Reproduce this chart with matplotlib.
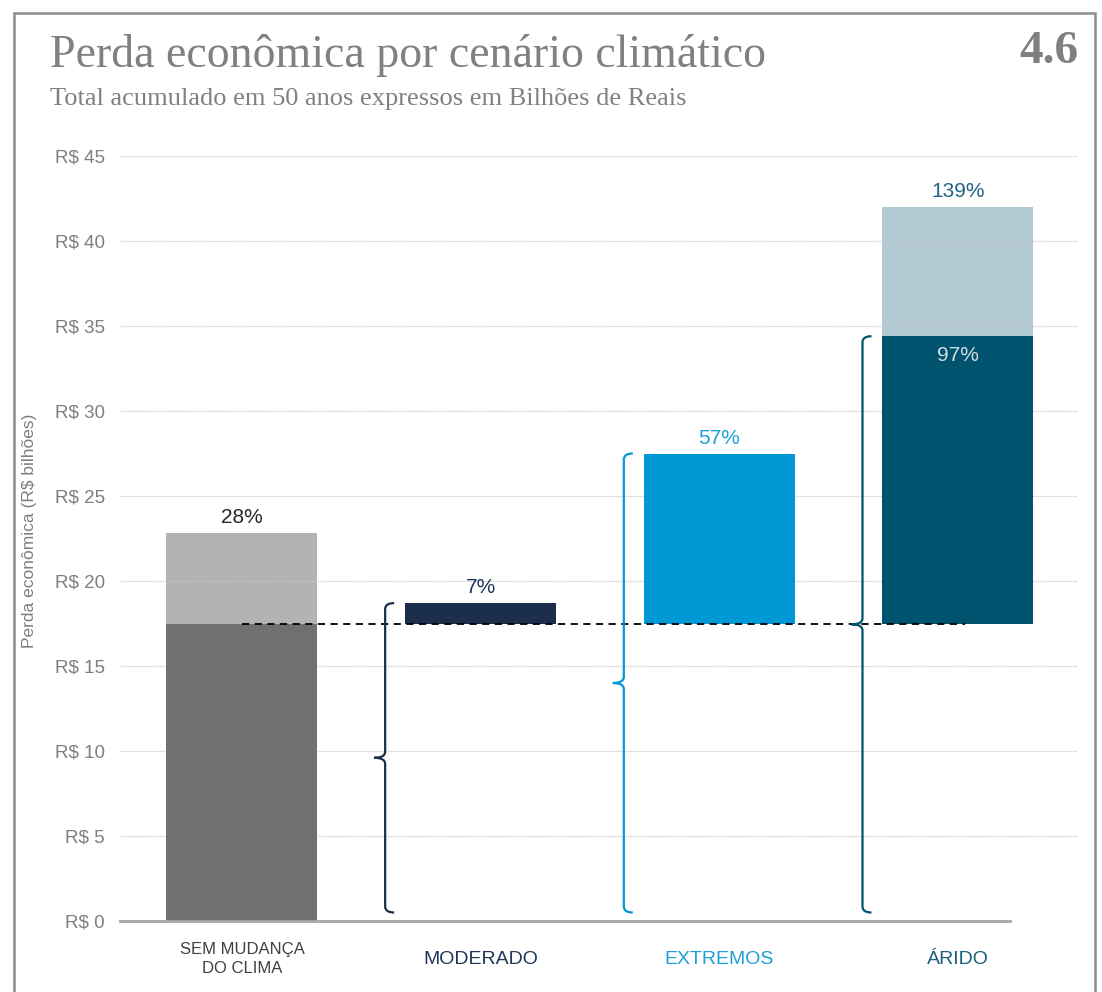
import numpy as np
import matplotlib.pyplot as plt
from matplotlib.path import Path
from matplotlib.patches import PathPatch, Rectangle

# scenario data (R$ bilhões, accumulated over 50 years)
categories = ["SEM MUDANÇA\nDO CLIMA", "MODERADO", "EXTREMOS", "ÁRIDO"]
base_loss = 17.5
bar_bottoms = [0, 17.5, 17.5, 17.5]
bar_tops = [17.5, 18.7, 27.5, 34.4]
upper_tops = [22.8, 0, 0, 42.0]
top_labels = ["28%", "7%", "57%", "139%"]
inner_labels = ["", "", "", "97%"]
yticks = [0, 5, 10, 15, 20, 25, 30, 35, 40, 45]

bar_colors = ["#707070", "#1b2e4b", "#0099d5", "#00536f"]
upper_colors = ["#b3b3b3", None, None, "#b3cad4"]
label_colors = ["#404040", "#1f3658", "#1d9fd9", "#1a5d7c"]
label_sizes = [12, 14, 14, 14]
pct_colors = ["#262626", "#1f3658", "#1d9fd9", "#1f6384"]

sans = ['Liberation Sans', 'DejaVu Sans']
serif = ['Liberation Serif', 'DejaVu Serif']
plt.rcParams['font.family'] = sans

W, H = 1102, 992
fig = plt.figure(figsize=(W / 100, H / 100), dpi=100)
ax = fig.add_axes([120 / W, 1 - 921 / H, (1078 - 120) / W, (921 - 156) / H])

x = np.arange(len(categories))
width = 0.633

# grid lines (drawn above the light segments, below the dark bars)
for t in yticks:
    ax.axhline(t, color="#c4c4c4", lw=0.9, ls=(0, (1, 1)), zorder=2)

for i in x:
    if upper_tops[i] > 0:
        ax.bar(i, upper_tops[i] - bar_tops[i], bottom=bar_tops[i], width=width,
               color=upper_colors[i], zorder=1)
    ax.bar(i, bar_tops[i] - bar_bottoms[i], bottom=bar_bottoms[i], width=width,
           color=bar_colors[i], zorder=3)
    top = max(bar_tops[i], upper_tops[i])
    ax.text(i, top + 0.35, top_labels[i], ha="center", va="bottom",
            fontsize=15, color=pct_colors[i], zorder=5)
    if inner_labels[i]:
        ax.text(i, bar_tops[i] - 0.6, inner_labels[i], ha="center", va="top",
                fontsize=15, color="#d3dce0", zorder=5)
    ax.text(i, -2.25, categories[i], ha="center", va="center",
            fontsize=label_sizes[i], color=label_colors[i], clip_on=False,
            linespacing=1.35)

# dashed reference line at the no-change loss
ax.plot([0, 3.03], [base_loss, base_loss], color="black", lw=1.3,
        ls=(0, (4, 3)), zorder=4)

# axis base line
ax.plot([-0.51, 3.22], [0, 0], color="#a6a6a6", lw=2, zorder=4, clip_on=False)

# curly braces from zero to each scenario total
px_x = 1 / 238.67
px_y = 1 / 17.0


def brace(xc, y0, y1, color):
    hook = 9 * px_x
    tip = 11 * px_x
    r = 6 * px_y
    ym = (y0 + y1) / 2
    verts = [(xc + hook, y1), (xc, y1), (xc, y1 - r),
             (xc, ym + r), (xc, ym), (xc - tip, ym),
             (xc, ym), (xc, ym - r),
             (xc, y0 + r), (xc, y0), (xc + hook, y0)]
    codes = [Path.MOVETO, Path.CURVE3, Path.CURVE3,
             Path.LINETO, Path.CURVE3, Path.CURVE3,
             Path.CURVE3, Path.CURVE3,
             Path.LINETO, Path.CURVE3, Path.CURVE3]
    ax.add_patch(PathPatch(Path(verts, codes), fill=False, edgecolor=color,
                           lw=1.6, zorder=4))


for i in x[1:]:
    brace(i - 0.4, 0.5, bar_tops[i], bar_colors[i])

ax.set_xlim(-0.511, 3.503)
ax.set_ylim(0, 45)
ax.set_yticks(yticks, [f"R$ {t}" for t in yticks])
ax.tick_params(axis="y", length=0, pad=11, labelsize=13.5, labelcolor="#7f7f7f")
ax.set_xticks([])
for s in ax.spines.values():
    s.set_visible(False)

fig.text(30 / W, 1 - 531 / H, "Perda econômica (R$ bilhões)", rotation=90,
         ha="center", va="center", fontsize=12.5, color="#7f7f7f")

# titles
fig.text(50 / W, 1 - 67 / H, "Perda econômica por cenário climático",
         family=serif, fontsize=33, color="#808080", va="baseline")
fig.text(50 / W, 1 - 105 / H, "Total acumulado em 50 anos expressos em Bilhões de Reais",
         family=serif, fontsize=19, color="#808080", va="baseline")
fig.text(1078 / W, 1 - 63 / H, "4.6", family=serif, fontsize=34,
         fontweight="bold", color="#7f7f7f", ha="right", va="baseline")

# outer frame
fig.patches.append(Rectangle((14 / W, -0.05), (1095 - 14) / W, 1.05 - 13 / H,
                             transform=fig.transFigure, fill=False,
                             edgecolor="#8c8c8c", lw=1.8))

fig.savefig("out.png", dpi=100)
